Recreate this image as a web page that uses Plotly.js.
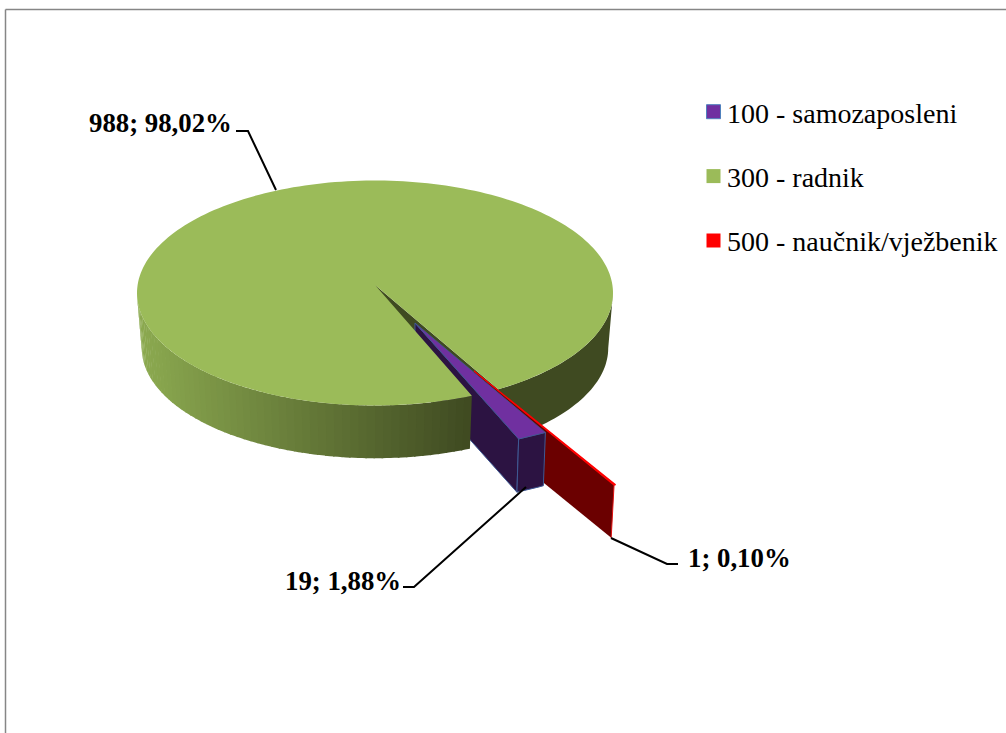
<!DOCTYPE html>
<html><head><meta charset="utf-8">
<script src="https://cdn.plot.ly/plotly-3.0.1.min.js"></script>
<style>html,body{margin:0;padding:0;background:#fff}#c{width:1006px;height:733px}</style></head>
<body><div id="c"></div>
<script>
// DATA
const categories = ['100 - samozaposleni', '300 - radnik', '500 - naučnik/vježbenik'];
const values = [19, 988, 1];
const sliceColors = ['#7030A0', '#9BBB59', '#FF0000'];

// 3D projection (styles only)
const FONT = '"Liberation Serif","Times New Roman",serif';
const cx = 375, cy = 293, rx = 238, ry = 112.5, depth = 55, shrink = 0.98, shrinkOut = 0.988;
const firstAngle = 149.2;
const total = values.reduce((a, b) => a + b, 0);
const rad = d => d * Math.PI / 180;

const rimPt = (a, ox, oy, s) => [cx + ox + rx * s * Math.sin(rad(a)), cy + oy - ry * s * Math.cos(rad(a))];
const drop = p => [cx + (p[0] - cx) * shrink, cy + (p[1] - cy) * shrink + depth];
const dropOut = p => [cx + (p[0] - cx) * shrinkOut, cy + (p[1] - cy) * shrinkOut + depth];
const traces = [];
function poly(pts, fill, line, lw) {
  traces.push({
    type: 'scatter', mode: line ? 'lines' : 'none', x: pts.map(p => p[0]).concat(pts[0][0]), y: pts.map(p => p[1]).concat(pts[0][1]),
    fill: 'toself', fillcolor: fill, line: { color: line || fill, width: lw || 0 }, showlegend: false, hoverinfo: 'skip'
  });
}
function arc(a0, a1, ox, oy, s) {
  const n = Math.max(2, Math.ceil(Math.abs(a1 - a0) / 1.5)), out = [];
  for (let i = 0; i <= n; i++) out.push(rimPt(a0 + (a1 - a0) * i / n, ox, oy, s));
  return out;
}
function mix(c0, c1, t) {
  return 'rgb(' + c0.map((v, i) => Math.round(v + (c1[i] - v) * t)).join(',') + ')';
}

// slice angles, clockwise from firstAngle: purple, green, red
const spans = values.map(v => v / total * 360);
const pStart = firstAngle, pEnd = pStart + spans[0];
const gStart = pEnd, gEnd = gStart + spans[1];
const rStart = gEnd, rEnd = rStart + spans[2];

const apexG = [cx, 285];
const pOff = [40, 36], pScale = 1.07;
const rOff = [97.7, 80], rScale = 1.16;
const DARK = [63, 74, 33], LIGHT = [140, 170, 80];

// green cut wall + right rim
const gEndPt = rimPt(gEnd, 0, 0, 1);
poly([apexG, gEndPt, drop(gEndPt), drop(apexG)], '#3F4A21');
const rightRim = arc(90, gEnd - 360, 0, 0, 1);
poly(rightRim.concat(rightRim.slice().reverse().map(drop)), '#3F4A21');

// red wall
const rA = [cx + rOff[0] + 1.3, cy + rOff[1] - 2];
const rOut = rimPt(rEnd, rOff[0], rOff[1], rScale);
poly([rA, rOut, dropOut(rOut), dropOut(rA)], '#6B0000');

// purple wall and front
const pA = [cx + pOff[0], cy + pOff[1] - 6];
const pOutL = rimPt(pEnd, pOff[0], pOff[1], pScale);
const pArc = arc(pStart, pEnd, pOff[0], pOff[1], pScale);
poly([pA, pOutL, dropOut(pOutL), dropOut(pA)], '#2C1342', '#3F5A94', 1);
poly(pArc.concat(pArc.slice().reverse().map(dropOut)), '#2C1342', '#3F5A94', 1);

// left rim with gradient
const STRIP = 2;
for (let a = gStart; a < 270; a += STRIP) {
  const b = Math.min(a + STRIP + 0.4, 270);
  const seg = arc(a, b, 0, 0, 1);
  const xm = rimPt((a + b) / 2, 0, 0, 1)[0];
  const t = Math.min(1, Math.max(0, (xm - 137) / (470 - 137)));
  poly(seg.concat(seg.slice().reverse().map(drop)), mix(LIGHT, DARK, t));
}

// green top
poly([apexG].concat(arc(gStart, gEnd, 0, 0, 1)), sliceColors[1]);

// red top, purple top
const rTop = [rA].concat(arc(rStart, rEnd, rOff[0], rOff[1], rScale));
poly(rTop, sliceColors[2], sliceColors[2], 1.2);
poly([pA].concat(pArc), sliceColors[0], '#3F5A94', 0.8);

// bright red edge on red wall's outer side
traces.push({ type: 'scatter', mode: 'lines', x: [rOut[0], dropOut(rOut)[0]], y: [rOut[1], dropOut(rOut)[1]], line: { color: '#E01010', width: 1 }, showlegend: false, hoverinfo: 'skip' });

// leader lines
const leaders = [
  [[403, 414, 526], [587, 587, 487]],
  [[236, 248, 276], [131, 131, 190]],
  [[611, 667, 678], [538, 564, 564]]
];
leaders.forEach(l => traces.push({ type: 'scatter', mode: 'lines', x: l[0], y: l[1], line: { color: '#000', width: 2 }, showlegend: false, hoverinfo: 'skip' }));

// legend entries
categories.forEach((c, i) => traces.push({
  type: 'scatter', mode: 'markers', name: c, x: [null], y: [null], legendgroup: 'g' + i,
  marker: { symbol: 'square', size: 14, color: sliceColors[i], line: i === 0 ? { color: '#4F81BD', width: 1 } : { width: 0 } }
}));

const fmt = v => v + '; ' + (v / total * 100).toFixed(2).replace('.', ',') + '%';
const labelPos = [[342.5, 581], [160, 123], [739, 558]];
const annotations = values.map((v, i) => ({
  x: labelPos[i][0], y: labelPos[i][1], xref: 'x', yref: 'y', text: fmt(v), showarrow: false,
  font: { family: FONT, size: 26.8, color: '#000', weight: 700 }
}));

const layout = {
  width: 1006, height: 733, margin: { l: 0, r: 0, t: 0, b: 0, pad: 0 },
  paper_bgcolor: '#fff', plot_bgcolor: '#fff',
  xaxis: { range: [0, 1006], visible: false, fixedrange: true },
  yaxis: { range: [733, 0], visible: false, fixedrange: true },
  hovermode: false,
  annotations,
  shapes: [
    { type: 'line', xref: 'x', yref: 'y', x0: 5.5, x1: 1006, y0: 9.5, y1: 9.5, line: { color: '#868686', width: 1.5 } },
    { type: 'line', xref: 'x', yref: 'y', x0: 5.5, x1: 5.5, y0: 9.5, y1: 733, line: { color: '#868686', width: 1.5 } }
  ],
  showlegend: true,
  legend: {
    x: 687 / 1006, y: 1 - 87 / 733, xanchor: 'left', yanchor: 'top', bgcolor: 'rgba(0,0,0,0)', borderwidth: 0,
    font: { family: FONT, size: 28, color: '#000' }, tracegroupgap: 25, traceorder: 'grouped'
  }
};
Plotly.newPlot('c', traces, layout, { displayModeBar: false, staticPlot: true }).then(() => {
  // Plotly fixes the swatch-to-text distance; move the swatches next to the text
  document.querySelectorAll('.legend .legendsymbols').forEach(g => g.setAttribute('transform', 'translate(6.5,0)'));
});
</script></body></html>
